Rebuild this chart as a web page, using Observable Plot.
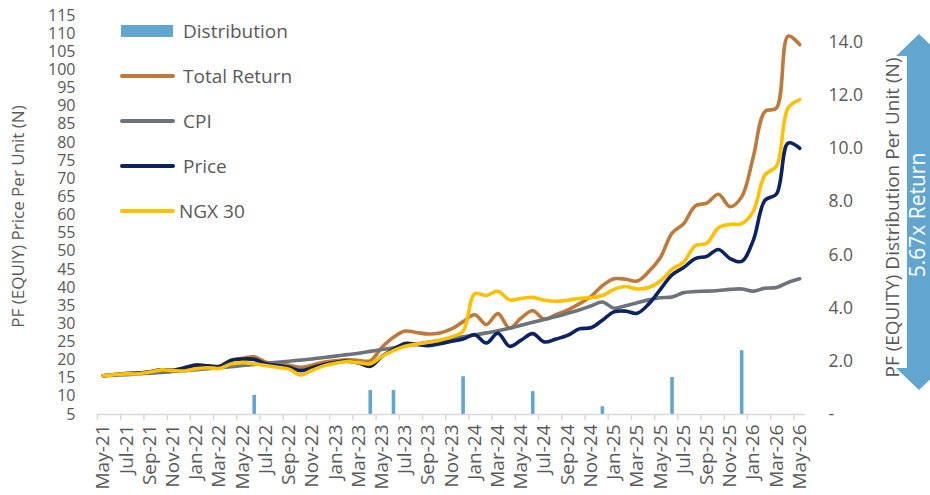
<!DOCTYPE html>
<html><head><meta charset="utf-8">
<script src="https://cdn.jsdelivr.net/npm/d3@7"></script>
<script src="https://cdn.jsdelivr.net/npm/@observablehq/plot@0.6"></script>
<style>
html,body{margin:0;padding:0;background:#fff;overflow:hidden;}
#wrap{position:relative;width:930px;height:495px;overflow:hidden;background:#fff;}
#underlay,#overlay{position:absolute;left:0;top:0;pointer-events:none;}
#wrap > svg.chart{position:relative;z-index:1;}
#overlay{z-index:2;}
#underlay{z-index:0;}
</style></head><body><div id="wrap"></div>
<script>
const months = ["May-21","Jun-21","Jul-21","Aug-21","Sep-21","Oct-21","Nov-21","Dec-21",
"Jan-22","Feb-22","Mar-22","Apr-22","May-22","Jun-22","Jul-22","Aug-22","Sep-22","Oct-22","Nov-22","Dec-22",
"Jan-23","Feb-23","Mar-23","Apr-23","May-23","Jun-23","Jul-23","Aug-23","Sep-23","Oct-23","Nov-23","Dec-23",
"Jan-24","Feb-24","Mar-24","Apr-24","May-24","Jun-24","Jul-24","Aug-24","Sep-24","Oct-24","Nov-24","Dec-24",
"Jan-25","Feb-25","Mar-25","Apr-25","May-25","Jun-25","Jul-25","Aug-25","Sep-25","Oct-25","Nov-25","Dec-25",
"Jan-26","Feb-26","Mar-26","Apr-26","May-26"];

const totalReturn = [15.7,16.0,16.3,16.4,16.8,17.3,17.2,17.9,18.6,18.4,18.3,20.0,20.5,20.9,19.4,19.0,18.6,18.0,18.6,19.4,
19.8,20.1,19.9,19.8,23.5,26.3,28.0,27.6,27.2,27.5,28.6,30.6,32.5,29.8,32.8,28.8,31.6,33.6,31.3,32.5,
33.8,35.5,37.5,40.5,42.4,42.3,41.8,44.4,48.3,55.0,57.6,62.5,63.3,65.7,62.3,65.0,76.0,88.5,89.5,109.3,107.0];

const cpi = [15.7,15.85,16.0,16.2,16.4,16.6,16.85,17.1,17.35,17.6,17.9,18.2,18.5,18.8,19.1,19.4,19.7,20.0,20.3,20.7,
21.1,21.5,21.9,22.4,22.9,23.4,23.9,24.4,24.9,25.4,25.9,26.4,26.9,27.5,28.1,28.8,29.6,30.4,31.2,32.0,
32.9,33.8,34.9,36.0,34.3,35.0,35.8,36.6,37.2,37.4,38.6,38.9,39.0,39.2,39.5,39.6,39.0,39.8,40.0,41.4,42.4];

const price = [15.7,16.0,16.3,16.4,16.8,17.3,17.2,17.9,18.6,18.4,18.2,19.9,20.3,20.2,19.0,18.5,18.0,17.1,17.9,18.8,
19.4,19.7,19.2,18.3,21.0,23.0,24.6,24.3,24.0,24.5,25.2,25.8,27.0,24.7,27.4,23.8,25.5,27.3,25.0,25.8,
26.8,28.6,28.9,31.0,33.3,33.5,32.9,35.5,39.5,43.5,45.5,48.0,48.6,50.5,48.0,47.2,53.0,64.0,65.8,79.8,78.4];

const ngx30 = [15.7,16.0,16.2,16.2,16.7,17.3,17.1,17.0,17.6,17.9,17.7,18.9,19.3,19.0,18.5,18.0,17.5,15.9,17.2,18.4,
19.1,19.6,19.3,19.0,21.0,22.6,23.8,24.4,24.9,25.5,26.4,28.0,38.3,37.8,39.0,36.6,37.0,37.3,36.5,36.2,
36.5,37.0,37.2,37.8,39.5,40.3,39.6,40.0,41.8,45.0,47.0,51.5,52.2,56.5,57.4,57.6,61.0,71.0,73.5,89.5,91.8];

const distMonths = ["Jun-22","Apr-23","Jun-23","Dec-23","Jun-24","Dec-24","Jun-25","Dec-25"];
const distValues = [0.72,0.9,0.9,1.42,0.86,0.29,1.39,2.4];

const leftTicks = d3.range(5, 116, 5);
const rightTicks = [0,2,4,6,8,10,12,14];
const xTickLabels = months.filter((d, i) => i % 2 === 0);

const legendNames = ["Distribution","Total Return","CPI","Price","NGX 30"];
const colors = {Distribution:"#62A6CF","Total Return":"#BE7A3A",CPI:"#6C737A",Price:"#0B2263","NGX 30":"#FFC000"};

const W = 930, H = 495, ML = 97, MR = 125, MT = 15, MB = 81;
const step = (W - ML - MR) / months.length;
const distToLeft = d3.scaleLinear([0, 15], [5, 115]);

const series = (arr) => months.map((m, i) => ({m, v: arr[i]}));
const distRows = distMonths.map((m, i) => ({m, v: distToLeft(distValues[i])}));

const lineOpts = (c) => ({x: "m", y: "v", stroke: c, strokeWidth: 3.6, curve: "catmull-rom", strokeLinejoin: "round", strokeLinecap: "round"});

const chart = Plot.plot({
  width: W, height: H,
  marginLeft: ML, marginRight: MR, marginTop: MT, marginBottom: MB,
  className: "chart",
  style: {fontFamily: "'Open Sans', sans-serif", color: "#595959", background: "transparent", overflow: "visible"},
  x: {type: "point", domain: months, padding: 0.5},
  y: {domain: [5, 115]},
  marks: [
    Plot.ruleX(distRows, {x: "m", y1: 5, y2: "v", stroke: colors.Distribution, strokeWidth: 3.6}),
    Plot.ruleY([5], {stroke: "#d9d9d9", strokeWidth: 1.5}),
    Plot.axisX(xTickLabels, {anchor: "bottom", tickSize: 6, tickFormat: () => "", dx: -step / 2, stroke: "#d9d9d9", strokeWidth: 1.5, label: null}),
    Plot.axisX(xTickLabels, {anchor: "bottom", tickSize: 0, tickPadding: 10, tickRotate: -90, fontSize: 19, fill: "#595959", label: null}),
    Plot.axisY(leftTicks, {anchor: "left", tickSize: 0, tickPadding: 22, fontSize: 16, fill: "#595959", label: null}),
    Plot.axisY(rightTicks.map(distToLeft), {anchor: "right", tickSize: 0, tickPadding: 23, fontSize: 17.5, fill: "#595959", label: null,
      tickFormat: d => { const v = Math.round(distToLeft.invert(d) * 10) / 10; return v === 0 ? "-" : v.toFixed(1); }}),
    Plot.text(["PF (EQUIY) Price Per Unit (N)"], {text: d => d, frameAnchor: "left", textAnchor: "middle", dx: -79, dy: 1.5, rotate: -90, fontSize: 17, fill: "#595959"}),
    Plot.text(["PF (EQUITY) Distribution Per Unit (N)"], {text: d => d, frameAnchor: "right", textAnchor: "middle", dx: 87, dy: 2.5, rotate: -90, fontSize: 19, fill: "#595959"}),
    Plot.line(series(totalReturn), lineOpts(colors["Total Return"])),
    Plot.line(series(cpi), lineOpts(colors.CPI)),
    Plot.line(series(price), lineOpts(colors.Price)),
    Plot.line(series(ngx30), lineOpts(colors["NGX 30"]))
  ]
});

const wrap = document.getElementById("wrap");

// underlay: return arrow (sits beneath the axis title, as in the reference)
const un = d3.select(wrap).append("svg").attr("id", "underlay").attr("width", W).attr("height", H)
  .style("font-family", "'Open Sans', sans-serif");
const arrowPts = [[919,34],[942,56],[931,56],[931,368],[942,368],[919,390],[896,368],[907,368],[907,56],[896,56]];
un.append("polygon").attr("points", arrowPts.map(p => p.join(",")).join(" ")).attr("fill", "#62A6CF");
un.append("text").attr("transform", "translate(918,215) rotate(-90)").attr("text-anchor", "middle").attr("dy", "0.35em")
  .attr("font-size", 21).attr("fill", "#fff").text("5.67x Return");

wrap.appendChild(chart);

// overlay: legend
const ov = d3.select(wrap).append("svg").attr("id", "overlay").attr("width", W).attr("height", H)
  .style("font-family", "'Open Sans', sans-serif");
legendNames.forEach((name, i) => {
  const cy = 31 + i * 45;
  if (name === "Distribution") {
    ov.append("rect").attr("x", 121).attr("y", cy - 6).attr("width", 52).attr("height", 12).attr("fill", colors[name]);
  } else {
    ov.append("line").attr("x1", 122).attr("x2", 173).attr("y1", cy).attr("y2", cy)
      .attr("stroke", colors[name]).attr("stroke-width", 4).attr("stroke-linecap", "round");
  }
  ov.append("text").attr("x", name === "NGX 30" ? 179 : 183).attr("y", cy).attr("dy", "0.35em")
    .attr("font-size", 19).attr("fill", "#595959").text(name);
});
</script>
</body></html>
